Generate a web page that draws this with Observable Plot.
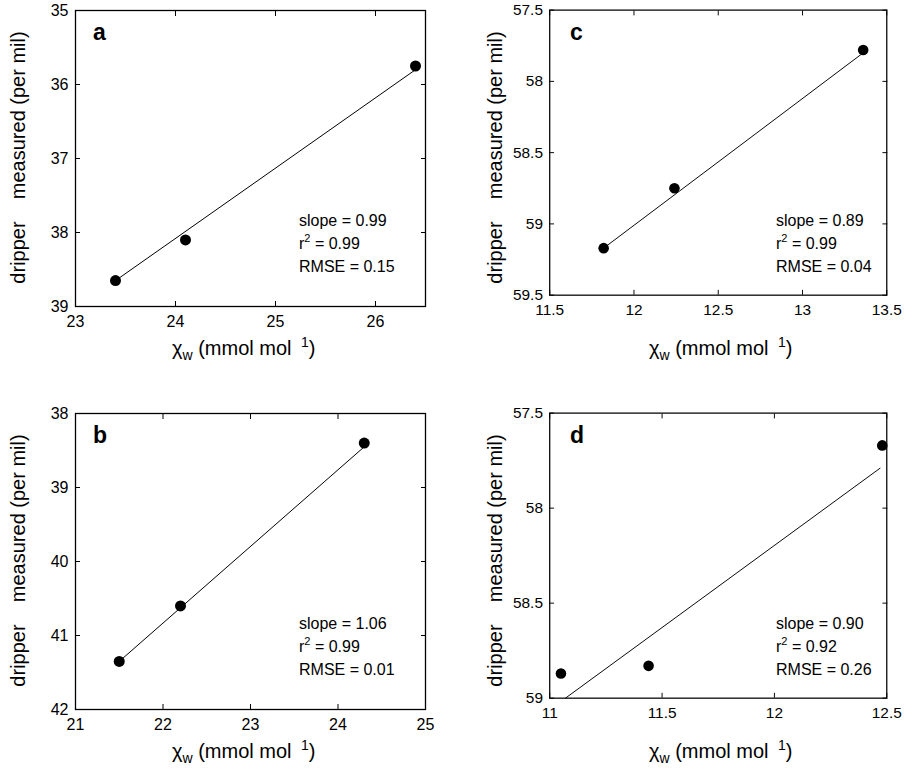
<!DOCTYPE html>
<html><head><meta charset="utf-8">
<script src="https://cdn.jsdelivr.net/npm/d3@7"></script>
<script src="https://cdn.jsdelivr.net/npm/@observablehq/plot@0.6"></script>
<style>
body{margin:0;background:#fff;font-family:"Liberation Sans",Arial,sans-serif;}
#wrap{position:relative;width:920px;height:777px;}
.panel{position:absolute;}
.ylab{position:absolute;font-size:20px;transform:rotate(-90deg);transform-origin:center;white-space:pre;text-align:center;}
.xlab{position:absolute;font-size:20px;white-space:nowrap;}
.stats{position:absolute;font-size:16px;line-height:23px;}
.stats sup{font-size:11px;line-height:0;vertical-align:0;position:relative;top:-7px;}
.letter{position:absolute;font-size:23px;font-weight:bold;}
</style></head><body><div id="wrap"></div>
<script>
// panel data
const names = ["a", "c", "b", "d"];
const xDomains = [[23, 26.5], [11.5, 13.5], [21, 25], [11, 12.5]];
const yDomains = [[35, 39], [57.5, 59.5], [38, 42], [57.5, 59]];
const xTicks = [[23, 24, 25, 26], [11.5, 12, 12.5, 13, 13.5], [21, 22, 23, 24, 25], [11, 11.5, 12, 12.5]];
const yTicks = [[35, 36, 37, 38, 39], [57.5, 58, 58.5, 59, 59.5], [38, 39, 40, 41, 42], [57.5, 58, 58.5, 59]];
const ptsX = [[23.4, 24.1, 26.4], [11.82, 12.24, 13.36], [21.5, 22.2, 24.3], [11.05, 11.44, 12.48]];
const ptsY = [[38.65, 38.1, 35.75], [59.17, 58.75, 57.78], [41.35, 40.6, 38.4], [58.87, 58.83, 57.67]];
const fitX = [[23.4, 26.4], [11.82, 13.36], [21.5, 24.3], [11.07, 12.47]];
const fitY = [[38.65, 35.8], [59.17, 57.8], [41.35, 38.45], [59.0, 57.79]];
const slopes = ["0.99", "0.89", "1.06", "0.90"];
const r2s = ["0.99", "0.99", "0.99", "0.92"];
const rmses = ["0.15", "0.04", "0.01", "0.26"];

const offsets = [[0, 0], [477, 0], [0, 403], [477, 403]];
const wrap = document.getElementById("wrap");

names.forEach((n, i) => {
  const [ox, oy] = offsets[i];
  const fmt = d => String(d);
  const chart = Plot.plot({
    width: 460, height: 388,
    marginLeft: 75, marginRight: 35, marginTop: 10, marginBottom: 82,
    style: {fontFamily: "Liberation Sans, Arial, sans-serif", fontSize: "16px", color: "#000", background: "transparent"},
    x: {domain: xDomains[i]},
    y: {domain: yDomains[i], reverse: true},
    marks: [
      Plot.frame({stroke: "#000", strokeWidth: 1.3}),
      Plot.axisX(xTicks[i], {anchor: "bottom", tickSize: -5, tickPadding: 14, tickFormat: fmt, label: null, fontSize: 16}),
      Plot.axisX(xTicks[i], {anchor: "top", tickSize: -5, tickFormat: () => "", label: null}),
      Plot.axisY(yTicks[i], {anchor: "left", tickSize: -5, tickPadding: 12, tickFormat: fmt, label: null, fontSize: 16}),
      Plot.axisY(yTicks[i], {anchor: "right", tickSize: -5, tickFormat: () => "", label: null}),
      Plot.line(fitX[i].map((x, j) => ({x, y: fitY[i][j]})), {x: "x", y: "y", stroke: "#000", strokeWidth: 1}),
      Plot.dot(ptsX[i].map((x, j) => ({x, y: ptsY[i][j]})), {x: "x", y: "y", r: 5.5, fill: "#000"})
    ]
  });
  const div = document.createElement("div");
  div.className = "panel";
  div.style.left = ox + "px"; div.style.top = oy + "px";
  div.appendChild(chart);
  wrap.appendChild(div);

  const yl = document.createElement("div");
  yl.className = "ylab";
  yl.textContent = "dripper    measured (per mil)";
  yl.style.width = "300px";
  yl.style.left = (ox + 18 - 150) + "px";
  yl.style.top = (oy + 158 - 12) + "px";
  wrap.appendChild(yl);

  const xl = document.createElement("div");
  xl.className = "xlab";
  xl.innerHTML = "χ<sub style='font-size:14px'>w</sub> (mmol mol <sup style='font-size:14px'>&nbsp;1</sup>)";
  xl.style.left = (ox + 172) + "px";
  xl.style.top = (oy + 334) + "px";
  wrap.appendChild(xl);

  const st = document.createElement("div");
  st.className = "stats";
  st.innerHTML = `slope = ${slopes[i]}<br>r<sup>2</sup> = ${r2s[i]}<br>RMSE = ${rmses[i]}`;
  st.style.left = (ox + 299) + "px";
  st.style.top = (oy + 209) + "px";
  wrap.appendChild(st);

  const lt = document.createElement("div");
  lt.className = "letter";
  lt.textContent = n;
  lt.style.left = (ox + 93) + "px";
  lt.style.top = (oy + 19) + "px";
  wrap.appendChild(lt);
});
</script></body></html>
